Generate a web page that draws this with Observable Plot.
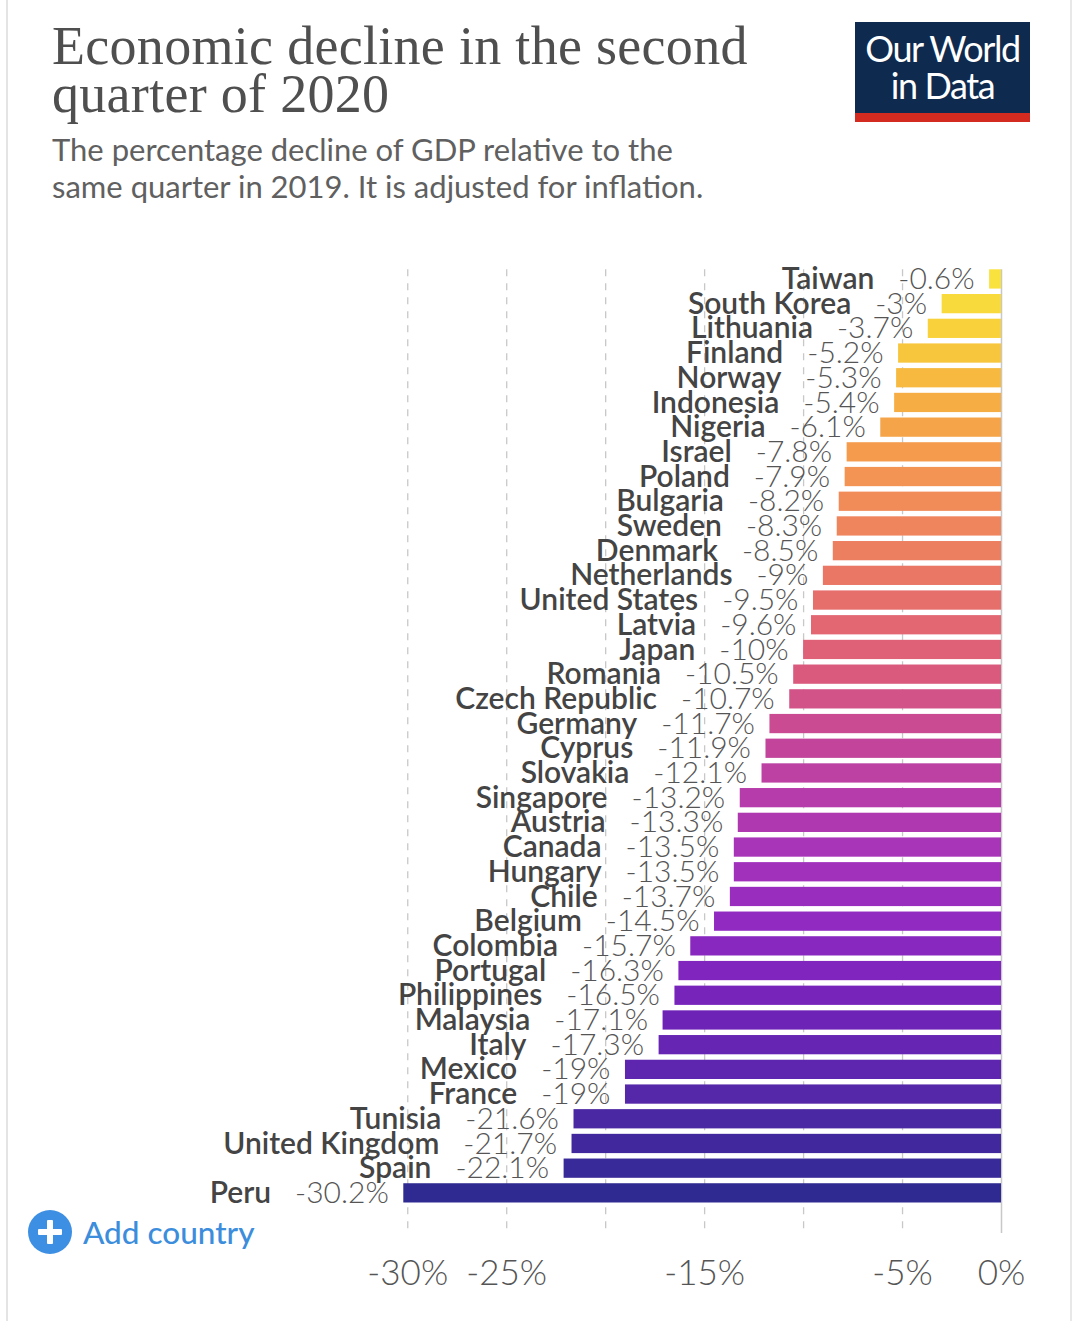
<!DOCTYPE html>
<html>
<head>
<meta charset="utf-8">
<script src="https://cdn.jsdelivr.net/npm/d3@7"></script>
<script src="https://cdn.jsdelivr.net/npm/@observablehq/plot@0.6"></script>
<style>
  html, body { margin: 0; padding: 0; background: #fff; }
  #page { position: relative; width: 1080px; height: 1321px; overflow: hidden; font-family: Lato, "Noto Sans", sans-serif; }
  .frame-l { position: absolute; left: 6px; top: 0; width: 2px; height: 1321px; background: #e4e4e4; }
  .frame-r { position: absolute; left: 1070px; top: 0; width: 2px; height: 1321px; background: #e8e8e8; }
  #title { position: absolute; left: 52px; top: 22px; font-family: "Liberation Serif", "DejaVu Serif", serif; font-size: 54px; line-height: 48px; color: #4f4f4f; letter-spacing: 0.3px; }
  #subtitle { position: absolute; left: 52px; top: 131px; font-family: Lato, sans-serif; font-size: 31px; line-height: 37px; color: #606060; }
  #logo { position: absolute; left: 855px; top: 22px; width: 175px; height: 100px; background: #0f2a4f; }
  #logo .red { position: absolute; left: 0; bottom: 0; width: 100%; height: 9px; background: #d42b21; }
  #logo .txt { position: absolute; left: 0; top: 8px; width: 100%; text-align: center; color: #fff; font-family: Lato, sans-serif; font-size: 36px; line-height: 37px; letter-spacing: -1.4px; }
  #add { position: absolute; left: 28px; top: 1210px; height: 44px; display: flex; align-items: center; }
  #add .circ { width: 44px; height: 44px; border-radius: 50%; background: #3d8fe3; position: relative; }
  #add .circ:before { content: ""; position: absolute; left: 10px; top: 19px; width: 24px; height: 6px; background: #fff; border-radius: 1px; }
  #add .circ:after { content: ""; position: absolute; left: 19px; top: 10px; width: 6px; height: 24px; background: #fff; border-radius: 1px; }
  #add .lbl { margin-left: 11px; color: #3c8ddc; font-size: 31.5px; font-weight: 500; }
  #chart { position: absolute; left: 0; top: 240px; }
</style>
</head>
<body>
<div id="page">
  <div class="frame-l"></div>
  <div class="frame-r"></div>
  <div id="title">Economic decline in the second<br>quarter of 2020</div>
  <div id="subtitle">The percentage decline of GDP relative to the<br>same quarter in 2019. It is adjusted for inflation.</div>
  <div id="logo"><div class="txt">Our World<br>in Data</div><div class="red"></div></div>
  <div id="chart"></div>
  <div id="add"><div class="circ"></div><div class="lbl">Add country</div></div>
</div>
<script>
const countries = ["Taiwan","South Korea","Lithuania","Finland","Norway","Indonesia","Nigeria","Israel","Poland","Bulgaria","Sweden","Denmark","Netherlands","United States","Latvia","Japan","Romania","Czech Republic","Germany","Cyprus","Slovakia","Singapore","Austria","Canada","Hungary","Chile","Belgium","Colombia","Portugal","Philippines","Malaysia","Italy","Mexico","France","Tunisia","United Kingdom","Spain","Peru"];
const values = [-0.6,-3,-3.7,-5.2,-5.3,-5.4,-6.1,-7.8,-7.9,-8.2,-8.3,-8.5,-9,-9.5,-9.6,-10,-10.5,-10.7,-11.7,-11.9,-12.1,-13.2,-13.3,-13.5,-13.5,-13.7,-14.5,-15.7,-16.3,-16.5,-17.1,-17.3,-19,-19,-21.6,-21.7,-22.1,-30.2];
const gridTicks = [-30,-25,-20,-15,-10,-5];
const labelTicks = [-30,-25,-15,-5,0];

const data = countries.map((name, i) => ({name, value: values[i], rank: i}));

const colorStops = ["#f9e23d","#f9cf3b","#f6b142","#f59b4e","#f08a5a","#ec7b63","#e26872","#d9597f","#c64797","#b83daa","#a733b8","#962bc0","#8226bf","#6d23b7","#5b27ae","#44299f","#2e2a92"];
const interp = d3.piecewise(d3.interpolateRgb, colorStops);
const n = countries.length;

const S = 240;            // svg top on page
const yTop = 269.3 - S;   // first bar top
const yBot = 1202.5 - S;  // last bar bottom
const gridBottom = 1233 - S;
const H = 1075;

const fmt = v => `${v}%`;

const plot = Plot.plot({
  width: 1080,
  height: H,
  marginLeft: 403.3,
  marginRight: 79,
  marginTop: yTop,
  marginBottom: H - gridBottom,
  style: {fontFamily: "Lato, sans-serif", background: "transparent", overflow: "visible"},
  x: {domain: [-30.2, 0], axis: null, label: null},
  y: {domain: countries, range: [yTop, yBot], paddingInner: 0.22, paddingOuter: 0, round: false, axis: null},
  marks: [
    Plot.ruleX(gridTicks, {stroke: "#c8c8c8", strokeWidth: 1.3, strokeDasharray: "7,7"}),
    Plot.ruleX([0], {stroke: "#c8c8c8", strokeWidth: 1.5}),
    Plot.barX(data, {x: "value", y: "name", fill: d => interp(d.rank / (n - 1))}),
    Plot.text(data, {x: "value", y: "name", text: d => `${d.name}|${fmt(d.value)}`, textAnchor: "end", dx: -15, fontSize: 30, fill: "#3e3e3e"}),
    Plot.axisX(labelTicks, {tickSize: 0, tickPadding: 27, tickFormat: fmt, fontSize: 35, fill: "#555", fontWeight: 300, label: null})
  ]
});

document.getElementById("chart").appendChild(plot);

// split labels into semibold name + light value
d3.select(plot).selectAll("g[aria-label='text'] text").each(function() {
  const sel = d3.select(this);
  const [name, val] = sel.text().split("|");
  sel.text(null);
  sel.append("tspan").attr("font-weight", 600).attr("fill", "#444").text(name);
  sel.append("tspan").attr("dx", 24).attr("font-weight", 300).attr("fill", "#555").text(val);
});
</script>
</body>
</html>
